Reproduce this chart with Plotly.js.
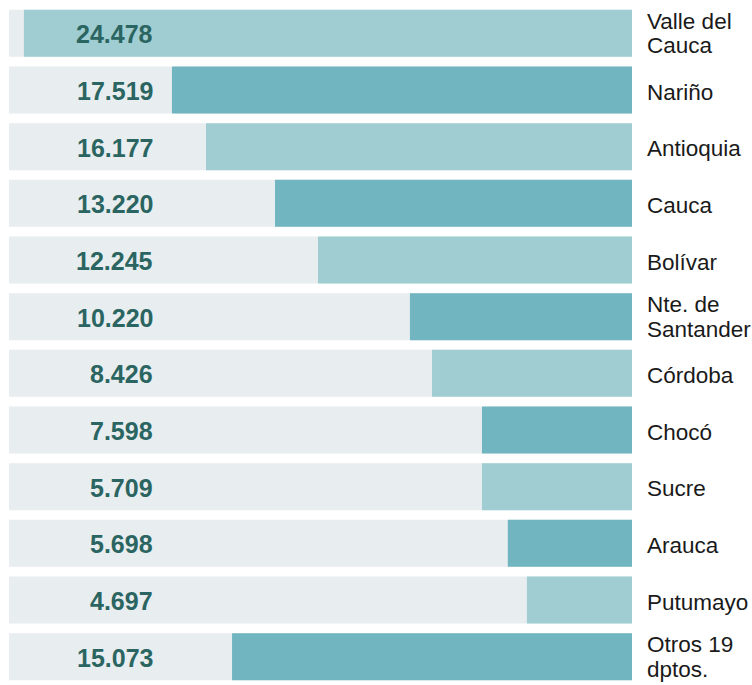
<!DOCTYPE html>
<html>
<head>
<meta charset="utf-8">
<script src="https://cdn.plot.ly/plotly-3.0.1.min.js"></script>
<style>
  body { margin: 0; background: #fff; }
  #chart { width: 752px; height: 685px; }
</style>
</head>
<body>
<div id="chart"></div>
<script>
// departments, top to bottom
const depts = ["Valle del<br>Cauca", "Nariño", "Antioquia", "Cauca", "Bolívar", "Nte. de<br>Santander",
               "Córdoba", "Chocó", "Sucre", "Arauca", "Putumayo", "Otros 19<br>dptos."];
// printed figures
const figures = ["24.478", "17.519", "16.177", "13.220", "12.245", "10.220",
                 "8.426", "7.598", "5.709", "5.698", "4.697", "15.073"];
// bar lengths as drawn in the graphic (thousands, not strictly to scale with the figures)
const barLength = [24.48, 18.52, 17.15, 14.37, 12.64, 8.94, 8.05, 6.04, 6.04, 5.0, 4.23, 16.1];
const fullLength = 25.08;

const light = '#9fcdd2', dark = '#70b5bf', track = '#e8edf0';
const font = "'Liberation Sans', Arial, sans-serif";

const ids = depts.map((d, i) => 'r' + i);

const trackTrace = {
    type: 'bar',
    orientation: 'h',
    y: ids,
    x: ids.map(() => fullLength),
    marker: {color: track},
    hoverinfo: 'skip'
};

const barTrace = {
    type: 'bar',
    orientation: 'h',
    y: ids,
    x: barLength,
    marker: {color: ids.map((d, i) => i % 2 ? dark : light)},
    hoverinfo: 'skip'
};

let annotations = [];
ids.forEach((id, i) => {
    // figure on the left
    annotations.push({
        xref: 'paper', yref: 'y', x: 0.2343, y: id, yshift: -1,
        xanchor: 'right', yanchor: 'middle', showarrow: false,
        text: figures[i],
        font: {family: font, size: 25, color: '#2b6561', weight: 'bold'}
    });
    // department name on the right, one annotation per line to keep lines tight
    const lines = depts[i].split('<br>');
    lines.forEach((ln, k) => {
        annotations.push({
            xref: 'paper', yref: 'y', x: 1, y: id, xshift: 14,
            yshift: lines.length > 1 ? (k === 0 ? 12 : -12.5) : -2,
            xanchor: 'left', yanchor: 'middle', showarrow: false,
            borderpad: 0,
            text: ln,
            font: {family: font, size: 22.5, color: '#1a1a1a'}
        });
    });
});

const layout = {
    width: 752, height: 685,
    margin: {l: 9, r: 120, t: 5, b: 0},
    barmode: 'overlay',
    bargap: 0.17,
    showlegend: false,
    paper_bgcolor: '#fff',
    plot_bgcolor: '#fff',
    xaxis: {range: [fullLength, 0], visible: false, fixedrange: true},
    yaxis: {autorange: 'reversed', visible: false, fixedrange: true},
    annotations: annotations
};

Plotly.newPlot('chart', [trackTrace, barTrace], layout, {displayModeBar: false, staticPlot: true});
</script>
</body>
</html>
